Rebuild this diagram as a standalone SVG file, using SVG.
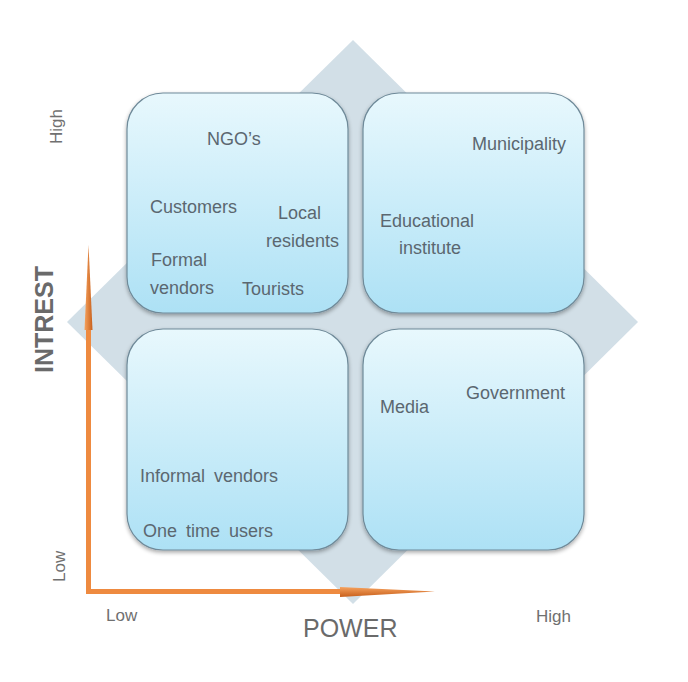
<svg xmlns="http://www.w3.org/2000/svg" width="688" height="682" viewBox="0 0 688 682">
<defs>
<linearGradient id="boxg" x1="0" y1="0" x2="0" y2="1">
<stop offset="0" stop-color="#e8f8fd"/>
<stop offset="1" stop-color="#ade1f5"/>
</linearGradient>
<filter id="sh" x="-10%" y="-10%" width="120%" height="125%">
<feGaussianBlur in="SourceAlpha" stdDeviation="2"/>
<feOffset dx="0" dy="2" result="b"/>
<feComponentTransfer><feFuncA type="linear" slope="0.35"/></feComponentTransfer>
<feMerge><feMergeNode/><feMergeNode in="SourceGraphic"/></feMerge>
</filter>
<linearGradient id="arrh" x1="0" y1="0" x2="0" y2="1">
<stop offset="0" stop-color="#f6a25e"/>
<stop offset="1" stop-color="#c8601c"/>
</linearGradient>
<linearGradient id="arrv" x1="0" y1="0" x2="1" y2="0">
<stop offset="0" stop-color="#f6a25e"/>
<stop offset="1" stop-color="#c8601c"/>
</linearGradient>
</defs>
<style>
.box{fill:url(#boxg);stroke:#6f8a99;stroke-width:1.2;filter:url(#sh)}
.t{font-family:"Liberation Sans",Arial,sans-serif;font-size:18px;fill:#5b6770}
.ax{font-family:"Liberation Sans",Arial,sans-serif;font-size:17px;fill:#707070}
.big{font-family:"Liberation Sans",Arial,sans-serif;font-size:25px;fill:#6a6a6a}
</style>
<rect width="688" height="682" fill="#ffffff"/>
<polygon id="diamond" points="353,40 638,322 353,604 67,322" fill="#d2dfe7"/>
<g id="box-high-low">
<rect class="box" x="127" y="93" width="221" height="220" rx="36"/>
<text class="t" x="207" y="145">NGO’s</text>
<text class="t" x="150" y="213">Customers</text>
<text class="t" x="278" y="219">Local</text>
<text class="t" x="266" y="247">residents</text>
<text class="t" x="151" y="266">Formal</text>
<text class="t" x="150" y="294">vendors</text>
<text class="t" x="242" y="295">Tourists</text>
</g>
<g id="box-high-high">
<rect class="box" x="363" y="93" width="221" height="220" rx="36"/>
<text class="t" x="472" y="150">Municipality</text>
<text class="t" x="380" y="227">Educational</text>
<text class="t" x="399" y="254">institute</text>
</g>
<g id="box-low-low">
<rect class="box" x="127" y="329" width="221" height="221" rx="36"/>
<text class="t" x="140" y="482" word-spacing="4">Informal vendors</text>
<text class="t" x="143" y="537" word-spacing="4">One time users</text>
</g>
<g id="box-low-high">
<rect class="box" x="363" y="329" width="221" height="221" rx="36"/>
<text class="t" x="380" y="413">Media</text>
<text class="t" x="466" y="399">Government</text>
</g>
<g id="connectors">
<path d="M86,594 L86,330 L91,330 L91,589 L340,589 L340,594 Z" fill="#ee8a40"/>
<polygon points="84.5,330 88.5,245 92.5,330" fill="url(#arrv)"/>
<polygon points="340,587 435,591.5 340,597" fill="url(#arrh)"/>
</g>
<g id="labels">
<text class="ax" transform="translate(62,144) rotate(-90)">High</text>
<text class="ax" font-size="16" transform="translate(65,582) rotate(-90)">Low</text>
<text class="big" font-weight="bold" transform="translate(53,373) rotate(-90)">INTREST</text>
<text class="ax" x="106" y="621">Low</text>
<text class="ax" x="536" y="622">High</text>
<text class="big" x="303" y="637">POWER</text>
</g>
</svg>
